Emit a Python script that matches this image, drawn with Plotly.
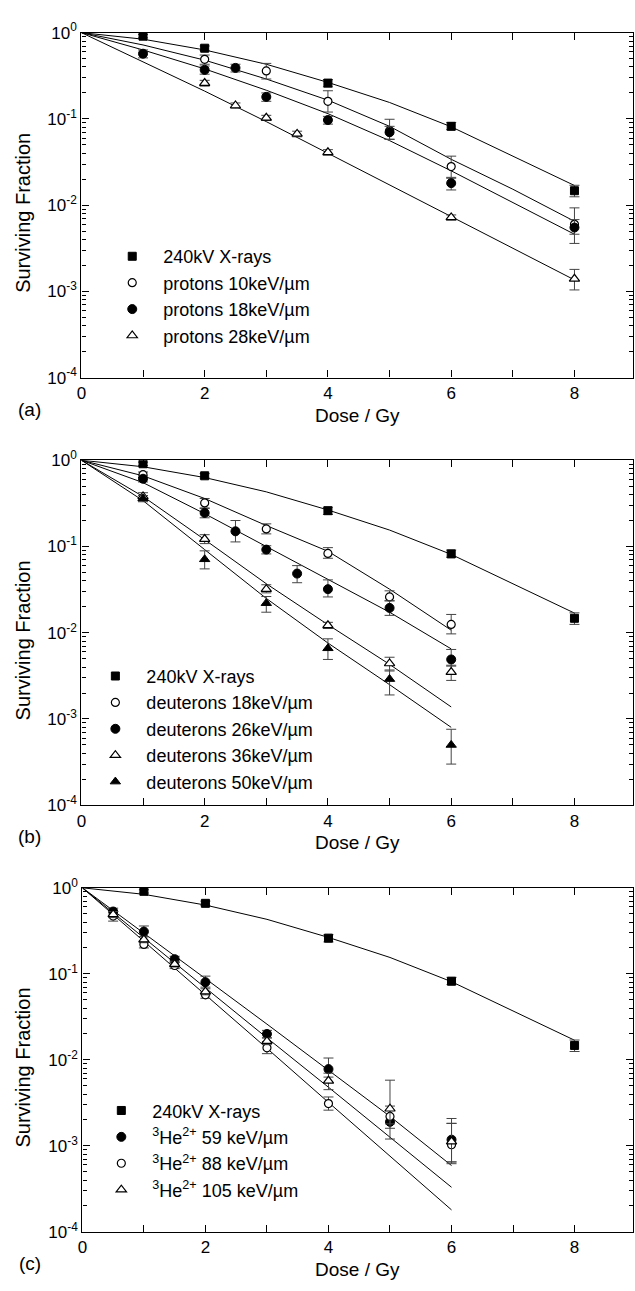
import plotly.graph_objects as go

W, H = 635, 1291
FONT = "Liberation Sans, Arial, Helvetica, sans-serif"

# ---------------- data ----------------
# X-ray reference (same in all panels)
xray_dose = [1, 2, 4, 6, 8]
xray_sf = [0.91, 0.66, 0.26, 0.082, 0.0147]
xray_ep = [0.04, 0.04, 0.025, 0.009, 0.0023]
xray_em = [0.04, 0.04, 0.025, 0.007, 0.0022]
xray_fit_dose = [0, 1, 2, 3, 4, 5, 6, 7, 8]
xray_fit_sf = [1, 0.84, 0.63, 0.43, 0.265, 0.155, 0.081, 0.037, 0.0169]

# panel (a) protons
p10_dose = [2, 3, 4, 5, 6, 8]
p10_sf = [0.49, 0.36, 0.16, 0.073, 0.028, 0.006]
p10_ep = [0.06, 0.08, 0.052, 0.026, 0.009, 0.0033]
p10_em = [0.06, 0.07, 0.04, 0.015, 0.007, 0.0014]
p18_dose = [1, 2, 2.5, 3, 4, 5, 6, 8]
p18_sf = [0.57, 0.37, 0.39, 0.18, 0.097, 0.07, 0.018, 0.0055]
p18_ep = [0.06, 0.04, 0.04, 0.02, 0.01, 0.012, 0.0025, 0.0013]
p18_em = [0.06, 0.04, 0.04, 0.02, 0.01, 0.012, 0.003, 0.0019]
p28_dose = [2, 2.5, 3, 3.5, 4, 6, 8]
p28_sf = [0.26, 0.143, 0.103, 0.067, 0.041, 0.0072, 0.0014]
p28_ep = [0.02, 0.01, 0.007, 0.005, 0.003, 0.0005, 0.0004]
p28_em = [0.02, 0.01, 0.007, 0.005, 0.003, 0.0005, 0.00036]
fit_a_dose = [0, 1, 2, 3, 4, 5, 6, 7, 8]
p10_fit = [1, 0.72, 0.48, 0.29, 0.165, 0.082, 0.034, 0.0153, 0.0065]
p18_fit = [1, 0.63, 0.38, 0.215, 0.115, 0.056, 0.025, 0.0108, 0.0046]
p28_fit = [1, 0.46, 0.21, 0.093, 0.04, 0.0173, 0.0074, 0.0032, 0.00136]

# panel (b) deuterons
d18_dose = [1, 2, 3, 4, 5, 6]
d18_sf = [0.68, 0.32, 0.16, 0.083, 0.026, 0.0125]
d18_ep = [0.05, 0.04, 0.023, 0.014, 0.0046, 0.0038]
d18_em = [0.05, 0.04, 0.02, 0.01, 0.0025, 0.0028]
d26_dose = [1, 2, 2.5, 3, 3.5, 4, 5, 6]
d26_sf = [0.61, 0.245, 0.15, 0.092, 0.0485, 0.032, 0.0194, 0.0049]
d26_ep = [0.05, 0.03, 0.05, 0.01, 0.0115, 0.009, 0.004, 0.0015]
d26_em = [0.05, 0.03, 0.037, 0.01, 0.0105, 0.006, 0.0035, 0.0008]
d36_dose = [1, 2, 3, 4, 5, 6]
d36_sf = [0.38, 0.122, 0.032, 0.0122, 0.0044, 0.0035]
d36_ep = [0.04, 0.015, 0.004, 0.001, 0.0008, 0.0007]
d36_em = [0.04, 0.014, 0.003, 0.001, 0.0008, 0.0007]
d50_dose = [1, 2, 3, 4, 5, 6]
d50_sf = [0.36, 0.071, 0.022, 0.0066, 0.0029, 0.0005]
d50_ep = [0.03, 0.018, 0.0043, 0.0019, 0.0008, 0.00026]
d50_em = [0.03, 0.016, 0.0047, 0.0017, 0.001, 0.0002]
fit_b_dose = [0, 1, 2, 3, 4, 5, 6]
d18_fit = [1, 0.66, 0.36, 0.175, 0.088, 0.032, 0.0107]
d26_fit = [1, 0.55, 0.24, 0.1, 0.041, 0.0173, 0.0065]
d36_fit = [1, 0.38, 0.12, 0.037, 0.0124, 0.0043, 0.00138]
d50_fit = [1, 0.34, 0.092, 0.025, 0.0076, 0.0025, 0.0008]

# panel (c) 3He2+
he_dose = [0.5, 1, 1.5, 2, 3, 4, 5, 6]
he59_sf = [0.53, 0.31, 0.148, 0.08, 0.02, 0.0078, 0.0019, 0.00118]
he59_ep = [0.05, 0.05, 0.012, 0.014, 0.002, 0.0027, 0.001, 0.0009]
he59_em = [0.05, 0.04, 0.012, 0.01, 0.002, 0.0015, 0.0003, 0.00053]
he88_sf = [0.47, 0.22, 0.125, 0.057, 0.0138, 0.0031, 0.0022, 0.00103]
he88_ep = [0.06, 0.02, 0.01, 0.005, 0.0025, 0.0006, 0.0004, 0.0008]
he88_em = [0.06, 0.02, 0.01, 0.005, 0.002, 0.0005, 0.0004, 0.00038]
he105_sf = [0.49, 0.25, 0.13, 0.062, 0.0165, 0.0057, 0.0027, 0.00112]
he105_ep = [0.04, 0.02, 0.01, 0.005, 0.0015, 0.0013, 0.0031, 0.0007]
he105_em = [0.04, 0.02, 0.01, 0.005, 0.0015, 0.0012, 0.0015, 0.0005]
fit_c_dose = [0, 1, 2, 3, 4, 5, 6]
he59_fit = [1, 0.3, 0.088, 0.026, 0.0076, 0.0022, 0.00059]
he105_fit = [1, 0.26, 0.068, 0.018, 0.0048, 0.00127, 0.00033]
he88_fit = [1, 0.24, 0.057, 0.0136, 0.0032, 0.00076, 0.00018]

y_tickvals = [1e-4, 1e-3, 1e-2, 1e-1, 1]
y_ticktext = ["10<sup>-4</sup>", "10<sup>-3</sup>", "10<sup>-2</sup>", "10<sup>-1</sup>", "10<sup>0</sup>"]
x_tickvals = [0, 2, 4, 6, 8]
x_ticktext = ["0", "2", "4", "6", "8"]
panel_labels = ["(a)", "(b)", "(c)"]

# ---------------- styles ----------------
STY = {
    "sq": dict(symbol="square", size=8, color="black", line=dict(color="black", width=1)),
    "oc": dict(symbol="circle", size=8, color="white", line=dict(color="black", width=1.2)),
    "fc": dict(symbol="circle", size=9, color="black", line=dict(color="black", width=1)),
    "ot": dict(symbol="triangle-up", size=9, color="white", line=dict(color="black", width=1.2)),
    "ft": dict(symbol="triangle-up", size=9, color="black", line=dict(color="black", width=1)),
}

# panel geometry in pixels: (left, right, top, bottom)
GEOM = [(77, 633, 21, 372), (77, 633, 456, 807), (78, 633, 891, 1241)]
LEGEND_POS = [(97, 230), (80, 657), (86, 1099)]  # (left, top) in pixels
LEGEND_GAP = [0, 0, 2.5]

fig = go.Figure()


def ax_suffix(i):
    return "" if i == 0 else str(i + 1)


def add_fit(i, x, y):
    s = ax_suffix(i)
    fig.add_trace(go.Scatter(x=x, y=y, mode="lines", line=dict(color="black", width=1),
                             showlegend=False, hoverinfo="skip",
                             xaxis="x" + s, yaxis="y" + s))


def add_pts(i, name, x, y, ep, em, sty):
    s = ax_suffix(i)
    group = ("g" + s) if LEGEND_GAP[i] == 0 else (name + s)
    fig.add_trace(go.Scatter(
        x=x, y=y, mode="markers", name=name, marker=STY[sty],
        error_y=dict(type="data", array=ep, arrayminus=em, symmetric=False,
                     color="#444444", thickness=1, width=5),
        xaxis="x" + s, yaxis="y" + s, legend="legend" + s, legendgroup=group))


# panel (a)
add_fit(0, xray_fit_dose, xray_fit_sf)
add_fit(0, fit_a_dose, p10_fit)
add_fit(0, fit_a_dose, p18_fit)
add_fit(0, fit_a_dose, p28_fit)
add_pts(0, "240kV X-rays", xray_dose, xray_sf, xray_ep, xray_em, "sq")
add_pts(0, "protons 10keV/µm", p10_dose, p10_sf, p10_ep, p10_em, "oc")
add_pts(0, "protons 18keV/µm", p18_dose, p18_sf, p18_ep, p18_em, "fc")
add_pts(0, "protons 28keV/µm", p28_dose, p28_sf, p28_ep, p28_em, "ot")

# panel (b)
add_fit(1, xray_fit_dose, xray_fit_sf)
add_fit(1, fit_b_dose, d18_fit)
add_fit(1, fit_b_dose, d26_fit)
add_fit(1, fit_b_dose, d36_fit)
add_fit(1, fit_b_dose, d50_fit)
add_pts(1, "240kV X-rays", xray_dose, xray_sf, xray_ep, xray_em, "sq")
add_pts(1, "deuterons 18keV/µm", d18_dose, d18_sf, d18_ep, d18_em, "oc")
add_pts(1, "deuterons 26keV/µm", d26_dose, d26_sf, d26_ep, d26_em, "fc")
add_pts(1, "deuterons 36keV/µm", d36_dose, d36_sf, d36_ep, d36_em, "ot")
add_pts(1, "deuterons 50keV/µm", d50_dose, d50_sf, d50_ep, d50_em, "ft")

# panel (c)
add_fit(2, xray_fit_dose, xray_fit_sf)
add_fit(2, fit_c_dose, he59_fit)
add_fit(2, fit_c_dose, he105_fit)
add_fit(2, fit_c_dose, he88_fit)
add_pts(2, "240kV X-rays", xray_dose, xray_sf, xray_ep, xray_em, "sq")
add_pts(2, "<sup>3</sup>He<sup>2+</sup> 59 keV/µm", he_dose, he59_sf, he59_ep, he59_em, "fc")
add_pts(2, "<sup>3</sup>He<sup>2+</sup> 88 keV/µm", he_dose, he88_sf, he88_ep, he88_em, "oc")
add_pts(2, "<sup>3</sup>He<sup>2+</sup> 105 keV/µm", he_dose, he105_sf, he105_ep, he105_em, "ot")

minor_vals = [k * 10 ** e for e in range(-4, 0) for k in range(2, 10)]
tickfont = dict(family=FONT, size=17, color="black")

layout = dict(width=W, height=H, margin=dict(l=0, r=0, t=0, b=0),
              paper_bgcolor="white", plot_bgcolor="white", showlegend=True)

annotations = []
for i, (l, r, t, b) in enumerate(GEOM):
    s = ax_suffix(i)
    xd = [l / W, r / W]
    yd = [1 - b / H, 1 - t / H]
    layout["xaxis" + s] = dict(
        domain=xd, range=[0, 8.95], tickvals=x_tickvals, ticktext=x_ticktext,
        ticks="inside", ticklen=7, tickcolor="black", showline=True, linecolor="black",
        linewidth=1.4, mirror="ticks", showgrid=False, zeroline=False, tickfont=tickfont,
        ticklabelstandoff=0,
        minor=dict(dtick=1, ticks="inside", ticklen=7, tickcolor="black", showgrid=False),
        anchor="y" + s)
    layout["yaxis" + s] = dict(
        domain=yd, type="log", range=[-4, 0], tickvals=y_tickvals, ticktext=y_ticktext,
        ticks="inside", ticklen=7, tickcolor="black", showline=True, linecolor="black",
        linewidth=1.4, mirror="ticks", showgrid=False, zeroline=False, tickfont=tickfont,
        minor=dict(tickvals=minor_vals, ticks="inside", ticklen=4, tickcolor="black", showgrid=False),
        anchor="x" + s)
    lx, ly = LEGEND_POS[i]
    layout["legend" + s] = dict(
        x=lx / W, y=1 - ly / H, xanchor="left", yanchor="top", itemwidth=52,
        bgcolor="rgba(0,0,0,0)", font=dict(family=FONT, size=18, color="black"),
        tracegroupgap=LEGEND_GAP[i], itemsizing="trace", traceorder="normal")
    common = dict(xref="paper", yref="paper", showarrow=False, xanchor="center", yanchor="middle")
    annotations.append(dict(text="Surviving Fraction", x=18 / W, y=1 - ((t + b) / 2 + 8) / H,
                            textangle=-90, font=dict(family=FONT, size=20, color="black"), **common))
    annotations.append(dict(text="Dose / Gy", x=(l + r) / 2 / W, y=1 - (b + 38) / H,
                            font=dict(family=FONT, size=19, color="black"), **common))
    annotations.append(dict(text=panel_labels[i], x=25 / W, y=1 - (b + 32) / H,
                            font=dict(family=FONT, size=19, color="black"), **common))

layout["annotations"] = annotations
fig.update_layout(**layout)
fig.write_html("out.html", config={"displayModeBar": False},
               post_script="document.body.style.margin='0';")
